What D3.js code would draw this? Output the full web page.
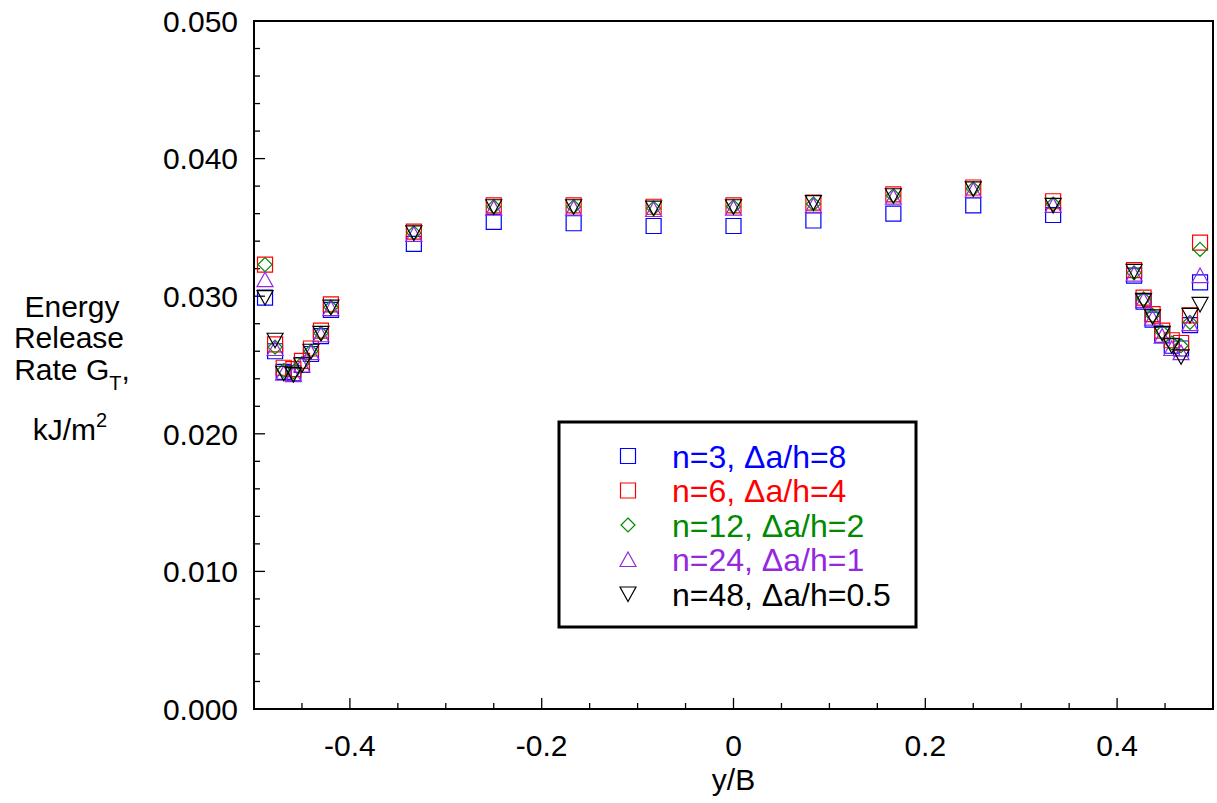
<!DOCTYPE html>
<meta charset="utf-8">
<head>
<style>
body { margin: 0; background: #fff; }
text { font-family: "Liberation Sans", Arial, Helvetica, sans-serif; fill: #000; }
.tick-label { font-size: 30px; }
.axis-title { font-size: 30px; }
.legend text { font-size: 32px; }
</style>
</head>
<body>
<svg width="1217" height="803"></svg>
<script src="https://d3js.org/d3.v7.min.js"></script>
<script>

// y/B positions (left edge cluster, middle, right edge cluster)
var yB = [-0.4885, -0.478, -0.469, -0.459, -0.45, -0.4406, -0.4302, -0.4198,
          -0.3333, -0.25, -0.1667, -0.0833, 0, 0.0833, 0.1667, 0.25, 0.3333,
          0.4177, 0.4276, 0.437, 0.447, 0.457, 0.4667, 0.476, 0.4865];

var gN3 = [0.0299, 0.0260, 0.0245, 0.0244, 0.0250, 0.0258, 0.0271, 0.0290,
           0.0338, 0.0354, 0.0353, 0.0351, 0.0351, 0.0355, 0.0360, 0.0366, 0.0359,
           0.0315, 0.0296, 0.0283, 0.0272, 0.0264, 0.0262, 0.0279, 0.0310];
var gN6 = [0.0323, 0.0265, 0.0248, 0.0247, 0.0253, 0.0262, 0.0275, 0.0294,
           0.0347, 0.0366, 0.0366, 0.0365, 0.0366, 0.0368, 0.0374, 0.0379, 0.0369,
           0.0319, 0.0299, 0.0287, 0.0275, 0.0268, 0.0266, 0.0286, 0.0339];
var gN12 = [0.0323, 0.0263, 0.0246, 0.0245, 0.0251, 0.0260, 0.0273, 0.0292,
            0.0346, 0.0365, 0.0365, 0.0364, 0.0365, 0.0367, 0.0373, 0.0378, 0.0367,
            0.0317, 0.0298, 0.0286, 0.0274, 0.0266, 0.0264, 0.0281, 0.0334];
var gN24 = [0.0312, 0.0262, 0.0244, 0.0243, 0.0250, 0.0259, 0.0272, 0.0291,
            0.0345, 0.0364, 0.0364, 0.0363, 0.0364, 0.0366, 0.0372, 0.0377, 0.0366,
            0.0316, 0.0297, 0.0284, 0.0271, 0.0262, 0.0259, 0.0280, 0.0315];
var gN48 = [0.0299, 0.0268, 0.0244, 0.0243, 0.0250, 0.0260, 0.0273, 0.0292,
            0.0346, 0.0365, 0.0365, 0.0364, 0.0365, 0.0368, 0.0373, 0.0378, 0.0366,
            0.0318, 0.0297, 0.0285, 0.0273, 0.0264, 0.0256, 0.0286, 0.0294];

var seriesLabels = ["n=3, \u0394a/h=8", "n=6, \u0394a/h=4", "n=12, \u0394a/h=2",
                    "n=24, \u0394a/h=1", "n=48, \u0394a/h=0.5"];

var xTicks = [-0.4, -0.2, 0, 0.2, 0.4];
var xTickLabels = ["-0.4", "-0.2", "0", "0.2", "0.4"];
var yTicks = [0, 0.01, 0.02, 0.03, 0.04, 0.05];
var yTickLabels = ["0.000", "0.010", "0.020", "0.030", "0.040", "0.050"];

var series = [
  { label: seriesLabels[0], values: gN3,  color: "#0000ff", shape: "square" },
  { label: seriesLabels[1], values: gN6,  color: "#ff0000", shape: "square" },
  { label: seriesLabels[2], values: gN12, color: "#008a00", shape: "diamond" },
  { label: seriesLabels[3], values: gN24, color: "#9428e0", shape: "triangleUp" },
  { label: seriesLabels[4], values: gN48, color: "#000000", shape: "triangleDown" }
];

var shapes = {
  square: "M-7.5,-7.5H7.5V7.5H-7.5Z",
  diamond: "M0,-7L7,0L0,7L-7,0Z",
  triangleUp: "M0,-7.5L8,7L-8,7Z",
  triangleDown: "M0,7.5L8,-7L-8,-7Z"
};

var svg = d3.select("svg");

var x = d3.scaleLinear().domain([-0.5, 0.5]).range([254, 1213]),
    y = d3.scaleLinear().domain([0, 0.05]).range([709, 21]);

// minor + major ticks, drawn inward
var xMinor = d3.range(-0.45, 0.5, 0.05).map(function(d) { return Math.round(d * 100) / 100; });
var yMinor = d3.range(0, 0.0501, 0.002).map(function(d) { return Math.round(d * 1000) / 1000; });

function isMajor(list, d) {
  return list.some(function(t) { return Math.abs(t - d) < 1e-9; });
}

svg.append("g").selectAll("line")
    .data(xMinor)
  .enter().append("line")
    .attr("x1", function(d) { return x(d); })
    .attr("x2", function(d) { return x(d); })
    .attr("y1", y(0))
    .attr("y2", function(d) { return isMajor(xTicks, d) ? y(0) - 11 : y(0) - 6; })
    .attr("stroke", "#000")
    .attr("stroke-width", 1.3);

svg.append("g").selectAll("line")
    .data(yMinor)
  .enter().append("line")
    .attr("x1", x(-0.5))
    .attr("x2", function(d) { return isMajor(yTicks, d) ? x(-0.5) + 11 : x(-0.5) + 6; })
    .attr("y1", function(d) { return y(d); })
    .attr("y2", function(d) { return y(d); })
    .attr("stroke", "#000")
    .attr("stroke-width", 1.3);

// frame
svg.append("rect")
    .attr("x", x(-0.5))
    .attr("y", y(0.05))
    .attr("width", x(0.5) - x(-0.5))
    .attr("height", y(0) - y(0.05))
    .attr("fill", "none")
    .attr("stroke", "#000")
    .attr("stroke-width", 2);

// tick labels
svg.append("g").selectAll("text")
    .data(xTicks)
  .enter().append("text")
    .attr("class", "tick-label")
    .attr("x", function(d) { return x(d); })
    .attr("y", 756)
    .attr("text-anchor", "middle")
    .text(function(d, i) { return xTickLabels[i]; });

svg.append("g").selectAll("text")
    .data(yTicks)
  .enter().append("text")
    .attr("class", "tick-label")
    .attr("x", 238)
    .attr("y", function(d) { return y(d); })
    .attr("dy", ".36em")
    .attr("text-anchor", "end")
    .text(function(d, i) { return yTickLabels[i]; });

// axis titles
svg.append("text")
    .attr("class", "axis-title")
    .attr("x", x(0))
    .attr("y", 790)
    .attr("text-anchor", "middle")
    .text("y/B");

var yTitle = svg.append("g").attr("class", "axis-title").attr("text-anchor", "middle");
yTitle.append("text").attr("x", 72).attr("y", 317).text("Energy");
yTitle.append("text").attr("x", 69).attr("y", 348).text("Release");
var rate = yTitle.append("text").attr("x", 72).attr("y", 380);
rate.append("tspan").text("Rate G");
rate.append("tspan").attr("dy", 10).attr("font-size", 20).text("T");
rate.append("tspan").attr("dy", -10).text(",");
var unit = yTitle.append("text").attr("x", 70).attr("y", 440);
unit.append("tspan").text("kJ/m");
unit.append("tspan").attr("dy", -13).attr("font-size", 20).text("2");

// markers
series.forEach(function(s) {
  svg.append("g").selectAll("path")
      .data(s.values)
    .enter().append("path")
      .attr("d", shapes[s.shape])
      .attr("transform", function(d, i) { return "translate(" + x(yB[i]) + "," + y(d) + ")"; })
      .attr("fill", "none")
      .attr("stroke", s.color)
      .attr("stroke-width", 1.2);
});

// legend
var legend = svg.append("g").attr("class", "legend");
legend.append("rect")
    .attr("x", 559)
    .attr("y", 422)
    .attr("width", 357)
    .attr("height", 205)
    .attr("fill", "#fff")
    .attr("stroke", "#000")
    .attr("stroke-width", 3);

var item = legend.selectAll(".item")
    .data(series)
  .enter().append("g")
    .attr("class", "item")
    .attr("transform", function(d, i) { return "translate(628," + (456 + i * 34.5) + ")"; });

item.append("path")
    .attr("d", function(d) { return shapes[d.shape]; })
    .attr("fill", "none")
    .attr("stroke", function(d) { return d.color; })
    .attr("stroke-width", 1.2);

item.append("text")
    .attr("x", 44)
    .attr("dy", ".36em")
    .style("fill", function(d) { return d.color; })
    .text(function(d) { return d.label; });

</script>
</body>
